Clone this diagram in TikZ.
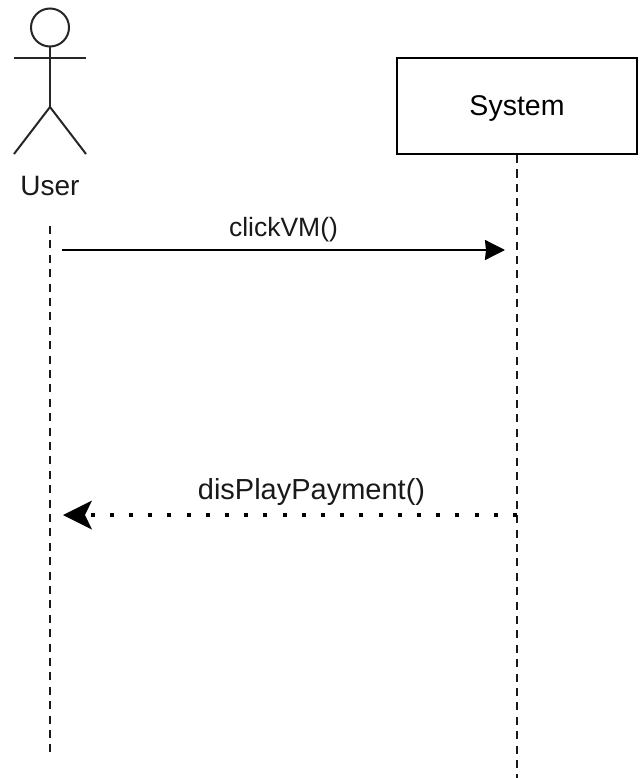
\documentclass[tikz,border=0pt]{standalone}
\usepackage{fontspec}
\setmainfont{Liberation Sans}
\usetikzlibrary{arrows.meta}

\begin{document}
\begin{tikzpicture}[x=1pt,y=-1pt]
        \tikzstyle{actorline}=[line width=2pt,black!85]
        \tikzstyle{lifeline}=[line width=2pt,black!90,dash pattern=on 8pt off 6.4pt]
        \tikzstyle{message}=[line width=2pt]
        \tikzstyle{label}=[inner sep=0pt,black!90]
        \useasboundingbox (0,0) rectangle (643,778);
        % actor
        \node[circle,draw,actorline,minimum size=38pt,inner sep=0pt] (head) at (50,27.5) {};
        \coordinate (armleft) at (14,58);
        \coordinate (armright) at (86,58);
        \coordinate (hip) at (50,107);
        \coordinate (footleft) at (14,154);
        \coordinate (footright) at (86,154);
        \draw[actorline] (head.south) -- (hip);
        \draw[actorline] (armleft) -- (armright);
        \draw[actorline] (footleft) -- (hip) -- (footright);
        \node[label,font=\fontsize{28}{30}\selectfont] (user) at (50,186) {User};
        % system
        \node[draw,line width=2.2pt,minimum width=240pt,minimum height=96pt,inner sep=0pt,
            text depth=0pt,text height=20pt,
            font=\fontsize{28.5}{30}\selectfont] (system) at (517,106) {System};
        % lifelines
        \coordinate (usertop) at (50,226);
        \coordinate (userend) at (50,754);
        \coordinate (systemend) at (517,778);
        \draw[lifeline] (usertop) -- (userend);
        \draw[lifeline] (system.south) -- (systemend);
        % messages
        \coordinate (clickstart) at (62,250);
        \coordinate (clickend) at (505,250);
        \coordinate (paystart) at (517,515);
        \coordinate (payend) at (63,515);
        \draw[message,-{Stealth[length=20pt,width=20pt,inset=1pt]}] (clickstart) -- (clickend);
        \draw[message,line width=4pt,dash pattern=on 4pt off 15.2pt,
            -{Stealth[length=29pt,width=29pt,inset=7pt,line width=0pt]}] (paystart) -- (payend);
        \node[label,font=\fontsize{26.5}{30}\selectfont] (click) at (283.5,230) {clickVM()};
        \node[label,font=\fontsize{29}{30}\selectfont] (pay) at (311.5,492) {disPlayPayment()};
\end{tikzpicture}
\end{document}
